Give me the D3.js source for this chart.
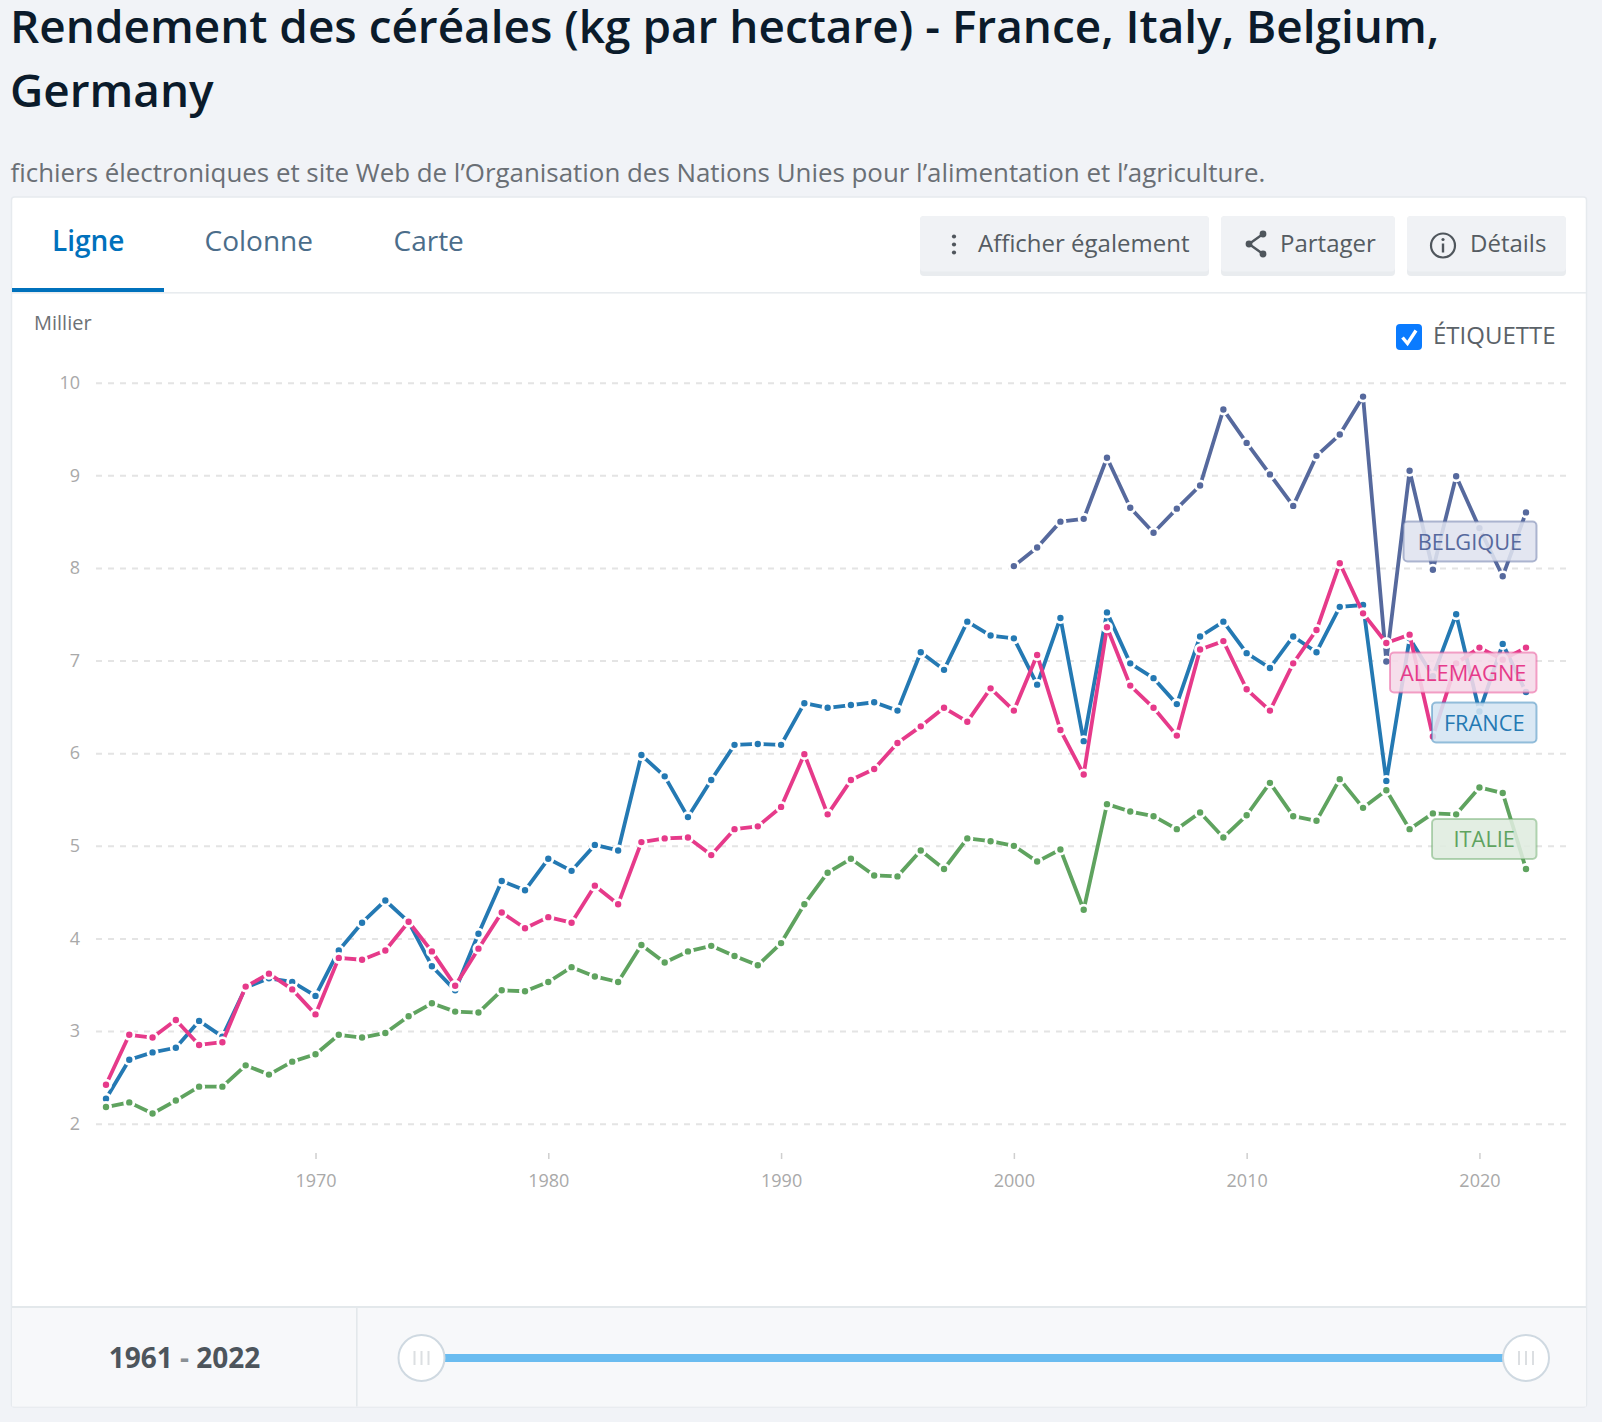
<!DOCTYPE html>
<html lang="fr">
<head>
<meta charset="utf-8">
<title>Rendement des céréales</title>
<script src="https://cdn.jsdelivr.net/npm/d3@7/dist/d3.min.js"></script>
<style>
  html, body { margin: 0; padding: 0; background: #f1f3f7; }
  svg { display: block; }
  text { font-family: "Open Sans", sans-serif; }
  .grid-y .domain, .axis-x .domain, .axis-y .domain, .axis-y line { display: none; }
</style>
</head>
<body>
<svg id="chart" width="1602" height="1422"></svg>
<script>
// Yield in thousands of kg per hectare, one value per year
const years = d3.range(1961, 2023);
const franceValues = [2.27,2.69,2.77,2.82,3.11,2.94,3.47,3.57,3.53,3.38,3.87,4.17,4.41,4.18,3.70,3.44,4.05,4.62,4.52,
  4.86,4.73,5.01,4.95,5.98,5.75,5.31,5.71,6.09,6.10,6.09,6.54,6.49,6.52,6.55,6.46,7.09,6.90,7.42,7.27,7.24,
  6.74,7.46,6.13,7.52,6.97,6.81,6.53,7.26,7.42,7.08,6.92,7.26,7.09,7.58,7.60,5.70,7.24,6.83,7.50,6.45,7.18,6.66];
const italyValues = [2.18,2.23,2.11,2.25,2.40,2.40,2.63,2.53,2.67,2.75,2.96,2.93,2.98,3.16,3.30,3.21,3.20,3.44,3.43,
  3.53,3.69,3.59,3.53,3.93,3.74,3.86,3.92,3.81,3.71,3.95,4.37,4.71,4.86,4.68,4.67,4.95,4.75,5.08,5.05,5.00,
  4.83,4.96,4.31,5.45,5.37,5.32,5.18,5.36,5.09,5.33,5.68,5.32,5.27,5.72,5.41,5.60,5.18,5.35,5.34,5.63,5.57,4.75];
const belgiumStart = 2000;
const belgiumValues = [8.02,8.22,8.50,8.53,9.19,8.65,8.38,8.64,8.89,9.71,9.35,9.01,8.67,9.21,9.44,9.85,
  6.99,9.05,7.98,8.99,8.43,7.91,8.60];
const germanyValues = [2.42,2.96,2.93,3.12,2.85,2.88,3.48,3.62,3.45,3.18,3.79,3.77,3.87,4.18,3.86,3.49,3.89,4.28,4.11,
  4.23,4.17,4.57,4.37,5.04,5.08,5.09,4.90,5.18,5.21,5.42,5.99,5.34,5.71,5.83,6.11,6.29,6.49,6.34,6.70,6.46,
  7.06,6.25,5.77,7.36,6.73,6.49,6.19,7.12,7.21,6.69,6.46,6.97,7.33,8.05,7.51,7.19,7.28,6.18,6.97,7.14,7.01,7.14];

const yTicks = [2, 3, 4, 5, 6, 7, 8, 9, 10];
const xTicks = [1970, 1980, 1990, 2000, 2010, 2020];
const tabLabels = ["Ligne", "Colonne", "Carte"];

const toPoints = (values, start) => values.map((v, i) => ({ year: start + i, value: v }));

// Paint order runs from first to last entry
const seriesList = [
  { name: "FRANCE",    color: "#2479b3", points: toPoints(franceValues, years[0]) },
  { name: "ITALIE",    color: "#5fa35f", points: toPoints(italyValues, years[0]) },
  { name: "BELGIQUE",  color: "#56699d", points: toPoints(belgiumValues, belgiumStart) },
  { name: "ALLEMAGNE", color: "#e63a8a", points: toPoints(germanyValues, years[0]) }
];

const colorOf = Object.fromEntries(seriesList.map(s => [s.name, s.color]));

const svg = d3.select("#chart");
const x = d3.scaleLinear().domain([1961, 2022]).range([106, 1526]);
const y = d3.scaleLinear().domain([2, 10]).range([1123.7, 382.7]);

/* Page heading */
const heading = svg.append("g").attr("fill", "#0b1b2b")
  .style("font-size", "45.9px").style("font-weight", 600);
heading.append("text").attr("x", 10).attr("y", 42.5)
  .text("Rendement des céréales (kg par hectare) - France, Italy, Belgium,");
heading.append("text").attr("x", 10).attr("y", 106.5).text("Germany");
svg.append("text").attr("x", 10.5).attr("y", 181.5).attr("fill", "#6a6f75")
  .style("font-size", "25.9px")
  .text("fichiers électroniques et site Web de l’Organisation des Nations Unies pour l’alimentation et l’agriculture.");

/* Card and footer */
svg.append("rect").attr("x", 11.5).attr("y", 197).attr("width", 1575).attr("height", 1210)
  .attr("rx", 3).attr("fill", "#fff").attr("stroke", "#e6eaee").attr("stroke-width", 1.5);
svg.append("rect").attr("x", 12).attr("y", 292).attr("width", 1574).attr("height", 1.6).attr("fill", "#e8ecef");
svg.append("rect").attr("x", 12).attr("y", 288).attr("width", 152).attr("height", 4).attr("fill", "#0071bc");

const footer = svg.append("g");
footer.append("rect").attr("x", 12).attr("y", 1307).attr("width", 1574).attr("height", 99.5).attr("fill", "#f7f8fa");
footer.append("rect").attr("x", 12).attr("y", 1306).attr("width", 1574).attr("height", 2).attr("fill", "#e3e8eb");
footer.append("rect").attr("x", 356).attr("y", 1307).attr("width", 1.6).attr("height", 99.5).attr("fill", "#e3e8eb");
const rangeLabel = footer.append("text").attr("x", 184.5).attr("y", 1367.5).attr("text-anchor", "middle")
  .attr("fill", "#4d555c").style("font-size", "28px").style("font-weight", 700);
rangeLabel.append("tspan").text("1961");
rangeLabel.append("tspan").attr("fill", "#8a9095").text(" - ");
rangeLabel.append("tspan").text("2022");

/* Year-range slider */
const sliderX = d3.scaleLinear().domain([1961, 2022]).range([421.5, 1526]);
footer.append("rect").attr("x", sliderX(1961)).attr("y", 1354).attr("width", sliderX(2022) - sliderX(1961))
  .attr("height", 8).attr("fill", "#6abcf0");
[1961, 2022].forEach(yr => {
  const h = footer.append("g").attr("transform", `translate(${sliderX(yr)},1358)`);
  h.append("circle").attr("r", 23).attr("fill", "#fff").attr("stroke", "#cfd9e1").attr("stroke-width", 2);
  [-7, 0, 7].forEach(dx => h.append("rect").attr("x", dx - 1).attr("y", -7).attr("width", 2).attr("height", 14).attr("fill", "#dcdfe2"));
});

/* Tabs */
const tabX = [52, 204.5, 393.5];
svg.append("g").selectAll("text").data(tabLabels).join("text")
  .attr("x", (d, i) => tabX[i]).attr("y", 251)
  .attr("fill", (d, i) => i === 0 ? "#0071bc" : "#4b6d8a")
  .style("font-size", "28px").style("font-weight", (d, i) => i === 0 ? 600 : 400)
  .text(d => d);

/* Toolbar buttons */
const buttonList = [
  { label: "Afficher également", left: 920, right: 1209, tx: 978 },
  { label: "Partager", left: 1221, right: 1395, tx: 1280 },
  { label: "Détails", left: 1407, right: 1566, tx: 1470 }
];
const btn = svg.append("g").selectAll("g").data(buttonList).join("g");
btn.append("rect").attr("x", d => d.left).attr("y", 216).attr("width", d => d.right - d.left).attr("height", 60)
  .attr("rx", 4).attr("fill", "#e9ecef");
btn.append("rect").attr("x", d => d.left).attr("y", 216).attr("width", d => d.right - d.left).attr("height", 55.5)
  .attr("rx", 4).attr("fill", "#f0f2f5");
btn.append("text").attr("x", d => d.tx).attr("y", 252).attr("fill", "#555c62").style("font-size", "24px").text(d => d.label);

const iconColor = "#4f565c";
const dots = svg.append("g").attr("fill", iconColor);
[-8, 0, 8].forEach(d => dots.append("circle").attr("cx", 954).attr("cy", 244.5 + d).attr("r", 2.1));
const share = svg.append("g").attr("fill", iconColor).attr("stroke", iconColor);
share.append("path").attr("d", "M1263 234 L1249 244 L1263 254").attr("fill", "none").attr("stroke-width", 2.4);
[[1263, 234], [1249, 244], [1263, 254]].forEach(p =>
  share.append("circle").attr("cx", p[0]).attr("cy", p[1]).attr("r", 3.4).attr("stroke", "none"));
const info = svg.append("g").attr("transform", "translate(1443,245.5)");
info.append("circle").attr("r", 12).attr("fill", "none").attr("stroke", iconColor).attr("stroke-width", 2.2);
info.append("rect").attr("x", -1.2).attr("y", -2).attr("width", 2.4).attr("height", 9).attr("fill", iconColor);
info.append("circle").attr("cy", -6).attr("r", 1.6).attr("fill", iconColor);

/* Label toggle */
svg.append("rect").attr("x", 1396).attr("y", 324).attr("width", 26).attr("height", 26).attr("rx", 4).attr("fill", "#0a7bff");
svg.append("path").attr("d", "M1402.5 337.5 L1407.5 343.5 L1416 330.5").attr("fill", "none")
  .attr("stroke", "#fff").attr("stroke-width", 3.4);
svg.append("text").attr("x", 1433).attr("y", 344).attr("fill", "#5b6268").style("font-size", "24px").text("ÉTIQUETTE");

/* Axes */
svg.append("text").attr("x", 34).attr("y", 330).attr("fill", "#6d7175").style("font-size", "20px").text("Millier");

const gridG = svg.append("g").attr("class", "grid-y").attr("transform", "translate(96,0)")
  .call(d3.axisRight(y).tickValues(yTicks).tickSize(1470).tickFormat(""));
gridG.selectAll("line").attr("stroke", "#e4e4e4").attr("stroke-width", 2).attr("stroke-dasharray", "6 6");

const yAxisG = svg.append("g").attr("class", "axis-y").attr("transform", "translate(88,0)")
  .call(d3.axisLeft(y).tickValues(yTicks).tickSize(0).tickPadding(8).tickFormat(d3.format("d")));
yAxisG.selectAll("text").attr("fill", "#a9a9a9").style("font-size", "18px");

const xAxisG = svg.append("g").attr("class", "axis-x").attr("transform", "translate(0,1153)")
  .call(d3.axisBottom(x).tickValues(xTicks).tickSize(6).tickPadding(15).tickFormat(d3.format("d")));
xAxisG.selectAll("line").attr("stroke", "#cfcfcf").attr("stroke-width", 1.5);
xAxisG.selectAll("text").attr("fill", "#a9a9a9").style("font-size", "18px");

/* Series: a line, then markers with a white halo that cuts the line */
const lineGen = d3.line().x(d => x(d.year)).y(d => y(d.value));
seriesList.forEach(s => {
  const g = svg.append("g");
  g.append("path").datum(s.points).attr("d", lineGen).attr("fill", "none")
    .attr("stroke", s.color).attr("stroke-width", 3.8).attr("stroke-linejoin", "round");
  g.selectAll("circle").data(s.points).join("circle")
    .attr("cx", d => x(d.year)).attr("cy", d => y(d.value)).attr("r", 4.6)
    .attr("fill", s.color).attr("stroke", "#fff").attr("stroke-width", 2.8);
});

/* End-of-line name tags */
const tagList = [
  { name: "BELGIQUE",  left: 1403.5, top: 521.5, w: 133, wash: "#dfe2ef" },
  { name: "ALLEMAGNE", left: 1390,   top: 652.5, w: 146.5, wash: "#f5dae8" },
  { name: "FRANCE",    left: 1432,   top: 702.5, w: 104.5, wash: "#d5e5f2" },
  { name: "ITALIE",    left: 1432,   top: 819,   w: 104.5, wash: "#dfecdf" }
];
const tags = svg.append("g").selectAll("g").data(tagList).join("g");
tags.append("rect").attr("x", d => d.left).attr("y", d => d.top).attr("width", d => d.w).attr("height", 40)
  .attr("rx", 4).attr("fill", d => d.wash).attr("fill-opacity", 0.88)
  .attr("stroke", d => colorOf[d.name]).attr("stroke-opacity", 0.45).attr("stroke-width", 2);
tags.append("text").attr("x", d => d.left + d.w / 2).attr("y", d => d.top + 28).attr("text-anchor", "middle")
  .attr("fill", d => colorOf[d.name]).style("font-size", "21.8px").text(d => d.name);
</script>
</body>
</html>
